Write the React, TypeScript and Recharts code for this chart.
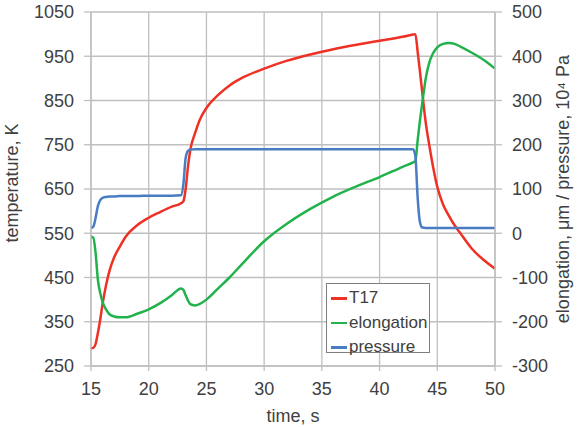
import React from 'react';
import { LineChart, Line, XAxis, YAxis, CartesianGrid } from 'recharts';

// time axis samples (s), denser where the curves jump
const time = [
  15, 15.2, 15.4, 15.6, 15.8, 16, 16.3, 16.6, 17, 17.5, 18, 19, 20, 21, 22, 22.8,
  23, 23.2, 23.4, 23.6, 24, 24.4, 25, 26, 27, 28, 30, 32, 34, 36, 38, 40, 42, 42.9,
  43.1, 43.3, 43.5, 43.7, 44, 44.3, 44.6, 45, 45.5, 46, 46.5, 47, 48, 49, 50,
];

// T17 temperature, K (left axis)
const t17 = [
  290, 291, 300, 325, 355, 390, 432, 465, 495, 520, 542, 568, 585, 598, 610, 618,
  622, 650, 700, 738, 775, 805, 833, 862, 884, 900, 922, 940, 954, 966, 976, 985, 994, 999,
  1000, 960, 915, 868, 800, 750, 705, 655, 615, 590, 568, 550, 515, 490, 470,
];

// elongation, um (right axis)
const elongation = [
  -8, -10, -45, -106, -135, -155, -172, -183, -188, -190, -190, -182, -172, -158, -140, -125,
  -128, -140, -152, -160, -163, -160, -150, -125, -100, -72, -18, 22, 55, 83, 106, 127, 150, 160,
  163, 210, 255, 294, 350, 385, 405, 420, 428, 430, 428, 422, 408, 392, 372,
];

// pressure, 10^4 Pa (right axis)
const pressure = [
  12, 15, 35, 62, 75, 80, 82, 83, 83, 84, 84, 84, 85, 85, 85, 86,
  110, 170, 186, 189, 190, 190, 190, 190, 190, 190, 190, 190, 190, 190, 190, 190, 190, 190,
  175, 80, 25, 13, 12, 12, 12, 12, 12, 12, 12, 12, 12, 12, 12,
];

const xTicks = [15, 20, 25, 30, 35, 40, 45, 50];
const leftTicks = [250, 350, 450, 550, 650, 750, 850, 950, 1050];
const rightTicks = [-300, -200, -100, 0, 100, 200, 300, 400, 500];

const data = time.map((t, i) => ({
  time: t,
  T17: t17[i],
  elongation: elongation[i],
  pressure: pressure[i],
}));

const RED = '#EE3124';
const GREEN = '#22B24C';
const BLUE = '#4A7CC4';
const GRID = '#BFBFBF';
const TEXT = '#404040';
const FONT = '"Liberation Sans", Arial, sans-serif';

const legendItems = [
  { name: 'T17', color: RED },
  { name: 'elongation', color: GREEN },
  { name: 'pressure', color: BLUE },
];

const App: React.FC = () => {
  const tick = { fontSize: 18, fill: TEXT, fontFamily: FONT };
  return (
    <div style={{ position: 'absolute', left: 0, top: 0, width: 578, height: 427, background: '#fff', fontFamily: FONT }}>
      <LineChart width={578} height={427} data={data} margin={{ top: 12, right: 0, left: 0, bottom: 0 }}>
        <CartesianGrid stroke={GRID} strokeWidth={1.3} yAxisId="left" />
        <XAxis
          dataKey="time"
          type="number"
          domain={[15, 50]}
          ticks={xTicks}
          height={61}
          stroke={GRID}
          strokeWidth={1.3}
          tickSize={5}
          tickMargin={11}
          tick={tick}
          label={{ value: 'time, s', position: 'insideBottom', offset: 5, style: { fontSize: 18, fill: TEXT, fontFamily: FONT } }}
        />
        <YAxis
          yAxisId="left"
          domain={[250, 1050]}
          ticks={leftTicks}
          width={91}
          stroke={GRID}
          strokeWidth={1.3}
          tickSize={7}
          tickMargin={10}
          tick={tick}
          label={{ value: 'temperature, K', angle: -90, position: 'insideLeft', offset: 12, dy: -6, style: { textAnchor: 'middle', fontSize: 18, fill: TEXT, fontFamily: FONT } }}
        />
        <YAxis
          yAxisId="right"
          orientation="right"
          domain={[-300, 500]}
          ticks={rightTicks}
          width={83}
          stroke={GRID}
          strokeWidth={1.3}
          tickSize={7}
          tickMargin={10}
          tick={tick}
          label={{ value: 'elongation, μm / pressure, 10⁴ Pa', angle: -90, position: 'insideRight', offset: 15, style: { textAnchor: 'middle', fontSize: 18, fill: TEXT, fontFamily: FONT } }}
        />
        <Line yAxisId="left" type="monotone" dataKey="T17" stroke={RED} strokeWidth={2.5} dot={false} isAnimationActive={false} />
        <Line yAxisId="right" type="monotone" dataKey="elongation" stroke={GREEN} strokeWidth={2.5} dot={false} isAnimationActive={false} />
        <Line yAxisId="right" type="monotone" dataKey="pressure" stroke={BLUE} strokeWidth={2.5} dot={false} isAnimationActive={false} />
      </LineChart>

      {/* Legend box */}
      <div
        style={{
          position: 'absolute',
          left: 326,
          top: 283,
          width: 104,
          height: 70,
          border: '1.5px solid #7F7F7F',
          background: '#fff',
          boxSizing: 'border-box',
          paddingTop: 2,
        }}
      >
        {legendItems.map((item) => (
          <div key={item.name} style={{ display: 'flex', alignItems: 'center', height: 24.5 }}>
            <div style={{ width: 16, height: 2.5, background: item.color, marginLeft: 4, marginRight: 2 }} />
            <span style={{ fontSize: 17, color: TEXT, lineHeight: '20px' }}>{item.name}</span>
          </div>
        ))}
      </div>
    </div>
  );
};

export default App;
